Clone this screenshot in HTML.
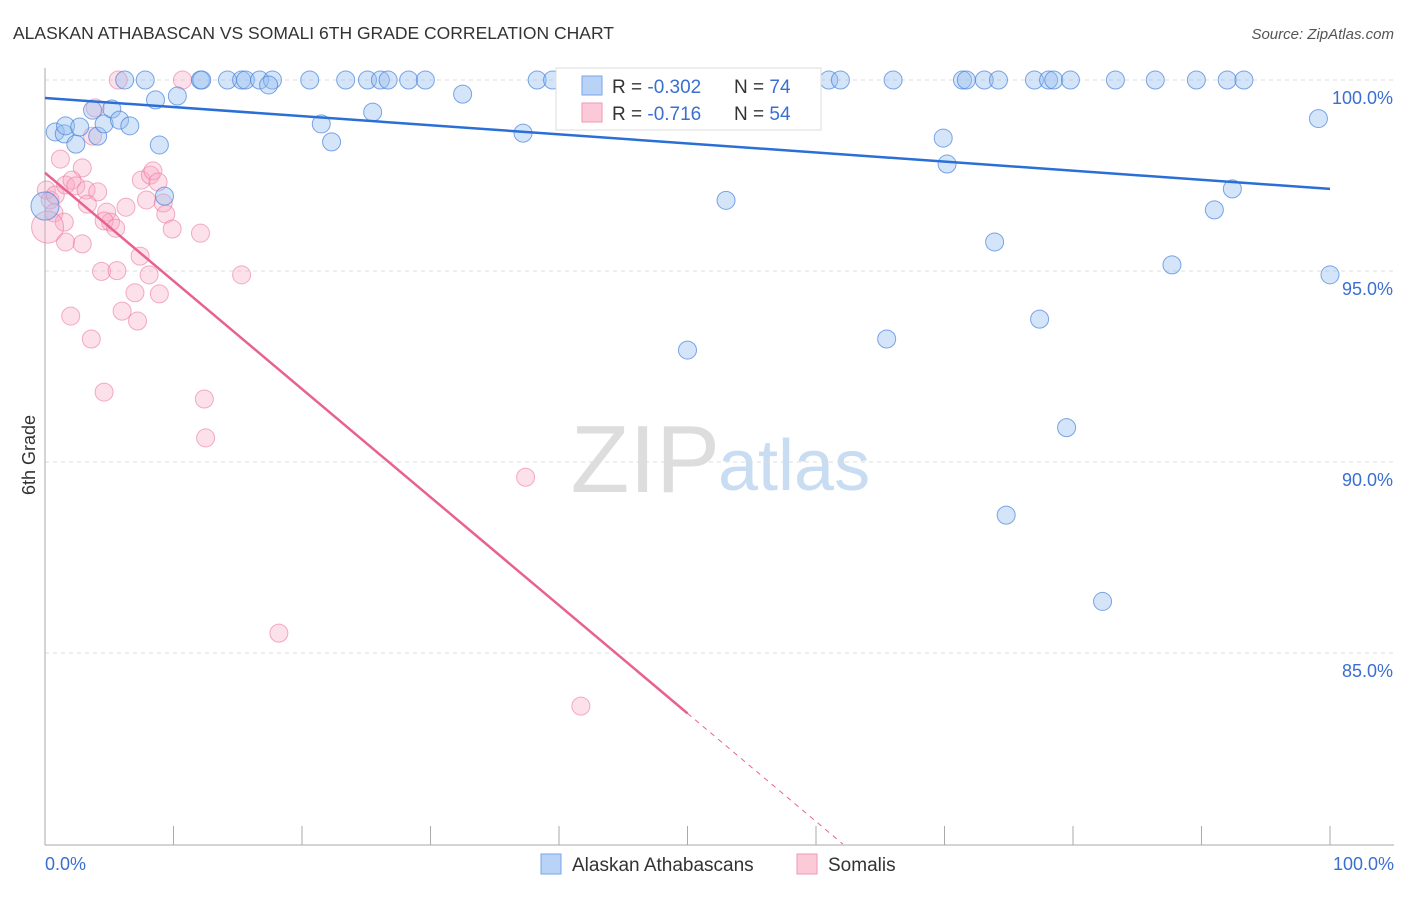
<!DOCTYPE html>
<html><head><meta charset="utf-8"><style>
body{margin:0;background:#fff;font-family:"Liberation Sans",sans-serif}
svg text{font-family:"Liberation Sans",sans-serif}
</style></head><body>
<svg id="c" width="1406" height="892">
<text x="13" y="39" font-size="17.5" fill="#333">ALASKAN ATHABASCAN VS SOMALI 6TH GRADE CORRELATION CHART</text>
<text x="1394" y="39" font-size="15" fill="#555" text-anchor="end" font-style="italic">Source: ZipAtlas.com</text>
<text x="720" y="492" font-size="96" fill="#ddd" text-anchor="end" font-family="Liberation Serif">ZIP</text>
<text x="718" y="490" font-size="72" fill="#c8dcf2">atlas</text>
<text x="35" y="455" font-size="18" fill="#333" text-anchor="middle" transform="rotate(-90 35 455)">6th Grade</text>
<g id="grid"></g><g id="marks"></g>
<g>
<rect x="556" y="68" width="265" height="62" fill="#fff" stroke="#ddd"/>
<rect x="582" y="76" width="20" height="19" fill="#b8d3f5" stroke="#7aa6e6"/>
<rect x="582" y="103" width="20" height="19" fill="#fcc9d8" stroke="#ef9ab5"/>
<text x="612" y="93" font-size="19" fill="#333">R = <tspan fill="#3a6fd0">-0.302</tspan></text>
<text x="734" y="93" font-size="19" fill="#333">N = <tspan fill="#3a6fd0">74</tspan></text>
<text x="612" y="120" font-size="19" fill="#333">R = <tspan fill="#3a6fd0"> -0.716</tspan></text>
<text x="734" y="120" font-size="19" fill="#333">N = <tspan fill="#3a6fd0">54</tspan></text>
</g>
<g>
<rect x="541" y="854" width="20" height="20" fill="#b8d3f5" stroke="#7aa6e6"/>
<text x="572" y="871" font-size="19" fill="#333">Alaskan Athabascans</text>
<rect x="797" y="854" width="20" height="20" fill="#fcc9d8" stroke="#ef9ab5"/>
<text x="828" y="871" font-size="19" fill="#333">Somalis</text>
</g>
</svg>
<script>
const yTicks=[100,95,90,85];
const yTickLabels=["100.0%","95.0%","90.0%","85.0%"];
const xLabels=["0.0%","100.0%"];
const blueX=[6.2,7.8,12.1,12.2,14.2,15.3,15.6,16.7,17.7,20.6,23.4,25.1,26.1,26.7,28.3,29.6,38.3,39.5,41.2,61,61.9,66,71.4,71.7,73.1,74.2,77,78.1,78.5,79.8,83.3,86.4,89.6,92,93.3,17.4,8.6,10.3,32.5,0.8,1.5,1.6,2.4,2.7,3.7,4.1,4.6,5.2,5.8,6.6,8.9,9.3,21.5,22.3,25.5,37.2,57.9,69.9,70.2,53,73.9,91,92.4,87.7,99.1,100,50,65.5,77.4,79.5,74.8,82.3,0];
const blueY=[100,100,100,100,100,100,100,100,100,100,100,100,100,100,100,100,100,100,100,100,100,100,100,100,100,100,100,100,100,100,100,100,100,100,100,99.87,99.48,99.58,99.63,98.64,98.59,98.8,98.32,98.77,99.21,98.53,98.85,99.24,98.95,98.8,98.3,96.96,98.85,98.38,99.16,98.61,98.99,98.48,97.8,96.85,95.76,96.6,97.15,95.16,98.99,94.9,92.93,93.22,93.74,90.9,88.61,86.35,96.7];
const pinkX=[5.7,10.7,3.9,3.7,1.2,2.9,0.1,0.4,0.8,1.6,2.1,2.4,3.2,4.1,0.7,1.5,3.3,4.8,5.1,4.6,5.5,6.3,7.5,8.2,8.4,8.8,7.9,9.2,9.4,9.9,12.1,1.6,2.9,7.4,4.4,5.6,8.1,15.3,7,8.9,6,7.2,2,3.6,4.6,12.4,12.5,37.4,18.2,41.7,0.2];
const pinkY=[100,100,99.27,98.53,97.93,97.7,97.12,96.86,96.99,97.25,97.38,97.23,97.12,97.07,96.52,96.28,96.75,96.54,96.28,96.31,96.12,96.67,97.38,97.51,97.62,97.33,96.86,96.78,96.49,96.1,95.99,95.76,95.71,95.39,94.99,95.01,94.9,94.9,94.43,94.4,93.95,93.69,93.82,93.22,91.83,91.65,90.63,89.6,85.52,83.61,96.15];
const blueLine=[99.53,97.15];
const pinkLine=[97.57,-0.283];
const X=v=>45+v*12.85, Y=v=>80+(100-v)*38.2;
const NS="http://www.w3.org/2000/svg";
function mk(t,a,p){const e=document.createElementNS(NS,t);for(const k in a)e.setAttribute(k,a[k]);p.appendChild(e);return e;}
const g=document.getElementById('grid'),m=document.getElementById('marks');
yTicks.forEach((t,i)=>{
 const l=mk('line',{x1:45,x2:1394,y1:Y(t),y2:Y(t),stroke:'#ddd','stroke-dasharray':'4,4'},g);
 
 
 const tx=mk('text',{x:1393,y:Y(t)+24,'font-size':18,fill:'#3a6fd0','text-anchor':'end'},g);
 tx.textContent=yTickLabels[i];
 
 
});
const ax=mk('line',{x1:45,x2:45,y1:68,y2:845,stroke:'#aaa'},g);


const bx=mk('line',{x1:45,x2:1394,y1:845,y2:845,stroke:'#aaa'},g);


for(let i=0;i<=10;i++){const t=mk('line',{x1:X(i*10),x2:X(i*10),y1:826,y2:845,stroke:'#aaa'},g);
 
 }
xLabels.forEach((s,i)=>{const t=mk('text',{x:i?1394:45,y:870,'font-size':18,fill:'#3a6fd0','text-anchor':i?'end':'start'},g);t.textContent=s;
 
 });
pinkX.forEach((x,i)=>{const c=mk('circle',{cx:X(x),cy:Y(pinkY[i]),r:i==pinkX.length-1?16:9,fill:'rgba(248,170,195,0.35)',stroke:'rgba(235,120,160,0.6)'},m);
 
 });
blueX.forEach((x,i)=>{const c=mk('circle',{cx:X(x),cy:Y(blueY[i]),r:i==blueX.length-1?14:9,fill:'rgba(150,190,240,0.4)',stroke:'rgba(70,130,220,0.7)'},m);
 
 });
const bl=mk('line',{x1:X(0),y1:Y(blueLine[0]),x2:X(100),y2:Y(blueLine[1]),stroke:'#2a6fd6','stroke-width':2.5},m);


const pe=50,pz=(pinkLine[0]-80)/-pinkLine[1];
const pl=mk('line',{x1:X(0),y1:Y(pinkLine[0]),x2:X(pe),y2:Y(pinkLine[0]+pinkLine[1]*pe),stroke:'#e8628f','stroke-width':2.5},m);


const pd=mk('line',{x1:X(pe),y1:Y(pinkLine[0]+pinkLine[1]*pe),x2:X(pz),y2:Y(80),stroke:'#e8628f','stroke-width':1,'stroke-dasharray':'5,5'},m);


</script>
</body></html>
